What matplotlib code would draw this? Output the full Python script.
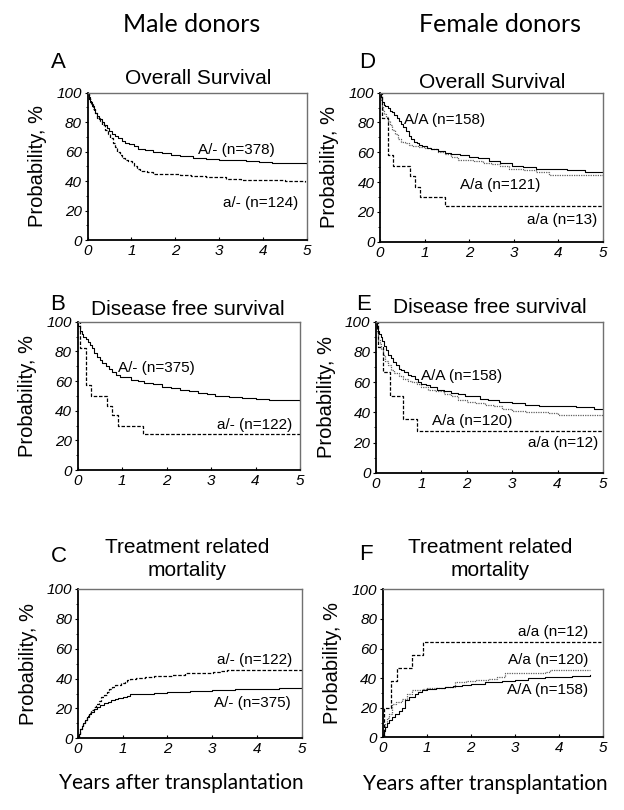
import matplotlib
matplotlib.use('Agg')
import matplotlib.pyplot as plt
from matplotlib.ticker import MultipleLocator

plt.rcParams['font.family'] = 'Liberation Sans'

# ---- data (years, %) ----
x_ticks = [0, 1, 2, 3, 4, 5]
y_ticks = [0, 20, 40, 60, 80, 100]

# A: overall survival, male donors
a_A_t = [0, 0.03, 0.06, 0.1, 0.14, 0.18, 0.22, 0.27, 0.32, 0.38, 0.44, 0.5, 0.56, 0.62, 0.7, 0.78, 0.86, 0.95, 1.05, 1.15, 1.3, 1.5, 1.7, 1.9, 2.1, 2.4, 2.7, 3.0, 3.3, 3.6, 3.9, 4.2, 4.6, 5.0]
a_A_s = [100, 97, 94, 91, 88, 86, 84, 82, 80, 78, 76, 74, 72, 70.5, 69, 67, 66, 65, 64, 62, 61, 60, 59, 58, 57, 56, 55, 54.5, 54, 53.5, 53, 52.5, 52, 51.5]
a_a_t = [0, 0.03, 0.07, 0.12, 0.17, 0.22, 0.28, 0.34, 0.40, 0.46, 0.52, 0.58, 0.63, 0.68, 0.73, 0.78, 0.85, 0.92, 1.02, 1.07, 1.13, 1.2, 1.35, 1.5, 1.8, 2.1, 2.35, 2.7, 3.0, 3.15, 3.5, 4.0, 4.5, 4.95]
a_a_s = [100, 96, 92, 89, 86, 83, 81, 78, 75, 72, 69, 66, 63, 60, 58, 56, 54.5, 53.5, 52, 50, 48, 47, 46, 45, 44.5, 44, 43.5, 43, 42.5, 41.5, 41, 40.5, 40, 39.5]

# B: disease free survival, male donors
b_A_t = [0, 0.02, 0.05, 0.09, 0.13, 0.18, 0.23, 0.28, 0.33, 0.38, 0.44, 0.5, 0.56, 0.63, 0.7, 0.78, 0.86, 0.95, 1.05, 1.2, 1.35, 1.5, 1.7, 1.9, 2.1, 2.3, 2.5, 2.7, 2.9, 3.1, 3.4, 3.7, 4.0, 4.3, 4.6, 5.0]
b_A_s = [100, 97, 94, 92, 90, 88, 86, 84, 82, 79, 76, 74, 72, 70, 68, 66, 64, 63, 62.5, 61, 60, 59, 58, 56, 55, 54, 53, 52, 51, 50, 49, 48.5, 48, 47.5, 47, 46.3]
b_a_t = [0, 0.06, 0.19, 0.3, 0.66, 0.77, 0.9, 1.48, 5.0]
b_a_s = [100, 82, 57.5, 50, 43, 37, 30, 24, 24]

# C: treatment related mortality, male donors
c_a_t = [0, 0.02, 0.05, 0.08, 0.12, 0.16, 0.2, 0.25, 0.3, 0.35, 0.4, 0.46, 0.52, 0.58, 0.64, 0.7, 0.76, 0.82, 0.9, 0.97, 1.04, 1.1, 1.16, 1.3, 1.5, 1.7, 1.85, 2.1, 2.39, 2.7, 3.02, 3.2, 3.32, 5.0]
c_a_s = [0, 3, 6, 8, 10, 12.5, 15, 17, 19, 21, 23, 25, 27.5, 29, 31, 33, 34.5, 35.7, 36, 37, 38, 39, 40, 40.5, 41, 41.5, 42, 42.5, 43.5, 44, 44.6, 45.2, 45.8, 45.8]
c_A_t = [0, 0.02, 0.05, 0.08, 0.12, 0.16, 0.2, 0.25, 0.3, 0.36, 0.42, 0.5, 0.58, 0.66, 0.74, 0.82, 0.9, 1.0, 1.1, 1.16, 1.4, 1.7, 2.0, 2.5, 3.0, 3.5, 4.0, 4.5, 5.0]
c_A_s = [0, 3, 6, 8, 10, 12, 14, 16, 17.5, 19.5, 21, 22.5, 23.5, 24.5, 25.5, 26.5, 27, 27.5, 28, 29.5, 30, 30.5, 31, 31.7, 32.3, 32.8, 33.3, 33.8, 34.2]

# D: overall survival, female donors
d_AA_t = [0, 0.02, 0.05, 0.08, 0.12, 0.17, 0.22, 0.27, 0.32, 0.37, 0.42, 0.47, 0.52, 0.58, 0.64, 0.7, 0.76, 0.82, 0.88, 0.95, 1.05, 1.15, 1.3, 1.45, 1.6, 1.8, 2.0, 2.2, 2.45, 2.7, 2.95, 3.2, 3.5, 3.8, 4.2, 4.6, 5.0]
d_AA_s = [100, 97, 94, 92, 91, 89.5, 88, 87, 85, 83, 81, 79, 77, 74, 71, 69, 67, 66, 65, 64, 63, 62, 61, 59.5, 59, 58, 57, 56, 54, 53, 51, 50, 49, 48.5, 48, 47, 46.5]
d_Aa_t = [0, 0.02, 0.04, 0.07, 0.1, 0.14, 0.18, 0.23, 0.28, 0.34, 0.4, 0.47, 0.55, 0.64, 0.75, 0.85, 1.0, 1.15, 1.3, 1.45, 1.6, 1.75, 1.9, 2.1, 2.3, 2.5, 2.7, 2.9, 3.2, 3.5, 3.8, 4.2, 4.6, 5.0]
d_Aa_s = [100, 95, 91, 88, 86, 84, 81, 78, 75, 72, 69, 67, 66, 65, 64, 63.5, 63, 62, 60, 59, 57, 55, 54.5, 54, 53, 52, 51, 49, 48, 47, 45, 45, 45, 45]
d_aa_t = [0, 0.05, 0.19, 0.3, 0.67, 0.79, 0.9, 1.46, 5.0]
d_aa_s = [100, 83, 58, 51, 44, 37, 30, 24, 24]

# E: disease free survival, female donors
e_AA_t = [0, 0.02, 0.04, 0.07, 0.1, 0.14, 0.18, 0.22, 0.27, 0.32, 0.38, 0.44, 0.5, 0.56, 0.62, 0.7, 0.78, 0.86, 0.92, 1.0, 1.1, 1.2, 1.35, 1.5, 1.65, 1.8, 1.95, 2.1, 2.3, 2.47, 2.7, 2.99, 3.28, 3.6, 4.0, 4.4, 4.8, 5.0]
e_AA_s = [100, 96, 94, 92, 90, 87, 84, 81, 78, 76, 73, 71, 69, 68, 67, 65, 64, 62, 60, 59, 58, 57, 55, 54, 53, 52, 51, 50.5, 49, 48, 47, 46, 45, 44.5, 44, 43.5, 42.5, 42.5]
e_Aa_t = [0, 0.02, 0.05, 0.08, 0.11, 0.15, 0.2, 0.26, 0.33, 0.4, 0.5, 0.6, 0.7, 0.8, 0.9, 1.0, 1.15, 1.3, 1.5, 1.65, 1.8, 2.0, 2.2, 2.4, 2.6, 2.77, 3.0, 3.3, 3.6, 3.8, 4.0, 4.5, 5.0]
e_Aa_s = [100, 93, 88, 85, 82, 78, 74, 71, 68, 66, 64, 62, 61, 60, 59, 57, 55, 54, 52, 50.5, 48, 47, 46, 45, 44, 42, 41, 40.5, 40, 39.5, 38.5, 38, 38]
e_aa_t = [0, 0.04, 0.16, 0.31, 0.59, 0.9, 5.0]
e_aa_s = [100, 83, 67, 51, 35.5, 27.3, 27.3]

# F: treatment related mortality, female donors
f_aa_t = [0, 0.04, 0.18, 0.32, 0.66, 0.91, 4.95]
f_aa_s = [0, 20, 38, 47, 55.4, 64.5, 64.5]
f_Aa_t = [0, 0.03, 0.06, 0.1, 0.15, 0.2, 0.3, 0.43, 0.55, 0.66, 0.8, 0.89, 1.0, 1.2, 1.42, 1.64, 1.9, 2.1, 2.4, 2.6, 2.78, 3.2, 3.69, 3.8, 4.71]
f_Aa_s = [0, 5, 9, 13, 16, 22.6, 24, 26, 29, 31.7, 32, 32.4, 33, 33.5, 34, 37.3, 38, 39, 39.6, 41, 43.4, 43.7, 44, 45.7, 45.7]
f_AA_t = [0, 0.03, 0.06, 0.1, 0.15, 0.2, 0.27, 0.36, 0.44, 0.51, 0.6, 0.66, 0.73, 0.8, 0.89, 1.0, 1.2, 1.42, 1.6, 1.8, 2.0, 2.33, 2.7, 3.0, 3.3, 3.69, 4.0, 4.3, 4.71]
f_AA_s = [0, 4, 7, 10, 12, 13.6, 15.5, 18, 20, 24.9, 27, 27.5, 29, 30.5, 32.1, 32.5, 33, 34, 34.5, 35.3, 36, 37.3, 38, 39, 40, 40.7, 41, 41.4, 41.9]

W, H = 624, 810
fig = plt.figure(figsize=(W / 100, H / 100), dpi=100)


def px_axes(l, r, t, b):
    return fig.add_axes([l / W, 1 - b / H, (r - l) / W, (b - t) / H])


def ftext(x, y, s, **kw):
    fig.text(x / W, 1 - y / H, s, **kw)


solid = dict(color='black', lw=0.8, ls='-')
dashed = dict(color='black', lw=0.9, ls=(0, (2.8, 1.4)))
dotted = dict(color='#606060', lw=0.9, ls=(0, (1, 0.9)))

panels = [
    # letter, box (l, r, t, b) in px, curves, curve labels
    ('A', (87.5, 307, 92.7, 240),
     [(a_A_t, a_A_s, solid), (a_a_t, a_a_s, dashed)],
     [(3.4, 61, 'A/- (n=378)'), (3.95, 25, 'a/- (n=124)')]),
    ('B', (77.5, 300, 321.7, 470),
     [(b_A_t, b_A_s, solid), (b_a_t, b_a_s, dashed)],
     [(1.78, 68.8, 'A/- (n=375)'), (3.99, 30.5, 'a/- (n=122)')]),
    ('C', (78, 301.7, 589, 738.3),
     [(c_A_t, c_A_s, solid), (c_a_t, c_a_s, dashed)],
     [(3.94, 52.5, 'a/- (n=122)'), (3.9, 23.4, 'A/- (n=375)')]),
    ('D', (380, 603, 92.7, 241.7),
     [(d_Aa_t, d_Aa_s, dotted), (d_AA_t, d_AA_s, solid), (d_aa_t, d_aa_s, dashed)],
     [(1.44, 82, 'A/A (n=158)'), (2.7, 38, 'A/a (n=121)'), (4.08, 14.6, 'a/a (n=13)')]),
    ('E', (376, 603, 321.7, 472.7),
     [(e_Aa_t, e_Aa_s, dotted), (e_AA_t, e_AA_s, solid), (e_aa_t, e_aa_s, dashed)],
     [(1.88, 64, 'A/A (n=158)'), (2.12, 34, 'A/a (n=120)'), (4.13, 19.6, 'a/a (n=12)')]),
    ('F', (382.7, 603, 589.3, 737.3),
     [(f_Aa_t, f_Aa_s, dotted), (f_AA_t, f_AA_s, solid), (f_aa_t, f_aa_s, dashed)],
     [(3.86, 71.3, 'a/a (n=12)'), (3.75, 52, 'A/a (n=120)'), (3.75, 31.7, 'A/A (n=158)')]),
]

for letter, box, curves, labels in panels:
    l, r, t, b = box
    ax = px_axes(l, r, t, b)
    for tt, ss, style in curves:
        ax.step(tt, ss, where='post', **style)
    for x, y, s in labels:
        ax.text(x, y, s, ha='center', va='center', fontsize=11)
    ax.set_xlim(0, 5)
    ax.set_ylim(0, 100)
    ax.set_xticks(x_ticks)
    ax.set_xticklabels([str(v) for v in x_ticks], fontstyle='italic')
    ax.set_yticks(y_ticks)
    ax.set_yticklabels([str(v) for v in y_ticks], fontstyle='italic')
    ax.yaxis.set_minor_locator(MultipleLocator(10))
    ax.tick_params(axis='x', direction='in', length=2, width=0.8, labelsize=11, pad=3)
    ax.tick_params(axis='y', direction='out', length=2, width=0.8, labelsize=11, pad=2)
    ax.tick_params(axis='y', which='minor', direction='out', length=1.5, width=0.6)
    for side in ['left', 'bottom']:
        ax.spines[side].set_linewidth(1.3)
        ax.spines[side].set_color('black')
    for side in ['top', 'right']:
        ax.spines[side].set_linewidth(1.0)
        ax.spines[side].set_color('#707070')
    ax.set_ylabel('Probability, %', fontsize=14.5)
    ax.yaxis.label.set_va('center')
    ax.yaxis.set_label_coords(-50 / (r - l), 0.5)

# panel letters
for s, x, y in [('A', 58, 62), ('B', 58, 304), ('C', 59, 556),
                ('D', 367, 62), ('E', 364, 304), ('F', 366, 555)]:
    ftext(x, y, s, fontsize=16, ha='center', va='center')

# panel titles (baseline positions in px)
ftext(198, 83.5, 'Overall Survival', fontsize=15, ha='center', va='baseline')
ftext(492, 88, 'Overall Survival', fontsize=15, ha='center', va='baseline')
ftext(188, 315, 'Disease free survival', fontsize=15, ha='center', va='baseline')
ftext(490, 313, 'Disease free survival', fontsize=15, ha='center', va='baseline')
for cx in [187, 490]:
    ftext(cx, 553, 'Treatment related', fontsize=15, ha='center', va='baseline')
    ftext(cx, 576, 'mortality', fontsize=15, ha='center', va='baseline')

# column headers and x labels
ftext(192, 24, 'Male donors', fontsize=18, ha='center', va='center', family='Lato')
ftext(500, 24, 'Female donors', fontsize=18, ha='center', va='center', family='Lato')
ftext(181, 783, 'Years after transplantation', fontsize=15, ha='center', va='center', family='Lato')
ftext(485, 784, 'Years after transplantation', fontsize=15, ha='center', va='center', family='Lato')

fig.savefig('out.png', dpi=100)
